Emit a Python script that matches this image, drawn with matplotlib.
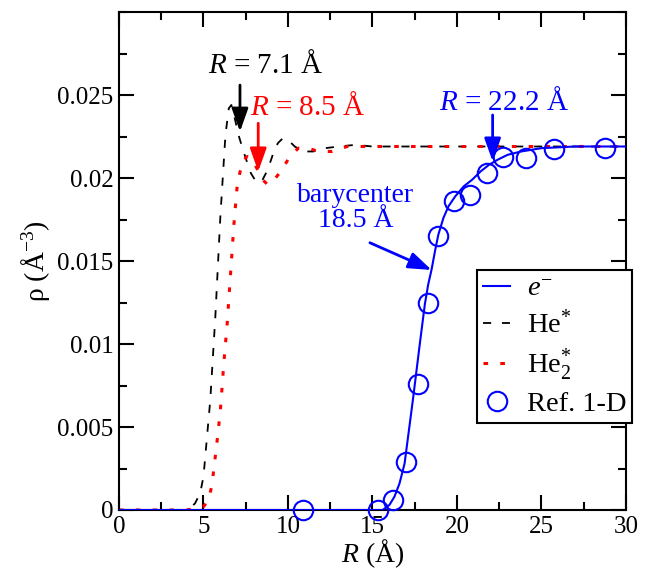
import numpy as np
import matplotlib
matplotlib.use("Agg")
import matplotlib.pyplot as plt
from matplotlib.ticker import MultipleLocator

plt.rcParams['font.family'] = ['Liberation Serif', 'DejaVu Serif']
plt.rcParams['mathtext.fontset'] = 'custom'
plt.rcParams['mathtext.rm'] = 'Liberation Serif'
plt.rcParams['mathtext.it'] = 'Liberation Serif:italic'

# e- density (blue solid)
x_e = [0, 15.6, 16.0, 16.3, 16.6, 16.9, 17.4, 17.8, 18.1, 18.3, 18.5, 18.7, 18.9,
       19.2, 19.5, 19.9, 20.4, 20.9, 21.4, 21.9, 22.4, 23.0, 23.8, 25.0, 27.0, 30.0]
y_e = [0, 0, 0.0003, 0.0008, 0.0016, 0.0028, 0.0067, 0.0100, 0.0124, 0.0136, 0.0145,
       0.0156, 0.0166, 0.0176, 0.0183, 0.0189, 0.0195, 0.0199, 0.0204, 0.0208, 0.0211,
       0.0214, 0.0216, 0.0218, 0.0219, 0.0219]

# He* (black dashed)
x_he = [0, 3.8, 4.2, 4.5, 4.8, 5.0, 5.4, 5.7, 6.0, 6.3, 6.5, 6.65, 6.85, 7.1, 7.4,
        7.8, 8.1, 8.3, 8.5, 8.8, 9.1, 9.4, 9.7, 10.0, 10.4, 10.9, 11.5, 12.2, 13.0,
        14.0, 15.0, 17.0, 20.0, 25.0, 30.0]
y_he = [0, 0, 0.0001, 0.0004, 0.0010, 0.0020, 0.0066, 0.0116, 0.0177, 0.0226, 0.0242,
        0.0244, 0.0236, 0.0225, 0.0215, 0.0203, 0.0198, 0.0197, 0.0199, 0.0205, 0.0214,
        0.0221, 0.0224, 0.0223, 0.0219, 0.0216, 0.0216, 0.0218, 0.0219, 0.0220, 0.0219,
        0.0219, 0.0219, 0.0219, 0.0219]

# He2* (red dotted)
x_he2 = [0, 4.0, 4.6, 5.0, 5.3, 5.5, 5.8, 6.0, 6.2, 6.4, 6.6, 6.8, 7.0, 7.3, 7.6, 7.9,
         8.2, 8.5, 8.8, 9.1, 9.5, 10.0, 10.6, 11.2, 11.8, 12.6, 13.5, 15.0, 20.0, 25.0, 30.0]
y_he2 = [0, 0, 0.0001, 0.0002, 0.0006, 0.0015, 0.0041, 0.0060, 0.0088, 0.0112, 0.0142,
         0.0172, 0.0196, 0.0210, 0.0213, 0.0211, 0.0205, 0.0199, 0.0196, 0.0198, 0.0203,
         0.0211, 0.0218, 0.0218, 0.0216, 0.0216, 0.0219, 0.0219, 0.0219, 0.0219, 0.0219]

# Ref. 1-D (open circles)
x_ref = [10.9, 15.3, 16.2, 17.0, 17.7, 18.3, 18.9, 19.8, 20.8, 21.75, 22.7, 24.1, 25.75, 28.75]
y_ref = [0, 0, 0.0006, 0.0029, 0.0076, 0.01245, 0.0165, 0.0186, 0.0190, 0.0203,
         0.02125, 0.0212, 0.02175, 0.0218]

yticks = [0, 0.005, 0.01, 0.015, 0.02, 0.025]
ytick_labels = ['0', '0.005', '0.01', '0.015', '0.02', '0.025']
xticks = [0, 5, 10, 15, 20, 25, 30]

fig = plt.figure(figsize=(6.48, 5.74), dpi=100)
ax = fig.add_axes([0.1836, 0.1115, 0.7824, 0.8675])

ax.plot(x_e, y_e, color='blue', lw=1.5, label=r'$e^{-}$', zorder=3)
ax.plot(x_he, y_he, color='black', lw=1.3, ls=(0, (4.5, 6)), label=r'He$^{*}$')
ax.plot(x_he2, y_he2, color='red', lw=2.2, ls=(0, (1.5, 4)), label=r'He$_{2}^{*}$')
ax.plot(x_ref, y_ref, 'o', mfc='none', mec='blue', mew=1.5, ms=14, label='Ref. 1-D',
        clip_on=False, zorder=4)

ax.set_xlim(0, 30)
ax.set_ylim(0, 0.03)
ax.set_xticks(xticks)
ax.set_yticks(yticks)
ax.set_yticklabels(ytick_labels)
ax.xaxis.set_minor_locator(MultipleLocator(2.5))
ax.yaxis.set_minor_locator(MultipleLocator(0.0025))
ax.tick_params(which='both', direction='in', top=True, right=True, width=1.5)
ax.tick_params(which='major', length=11, labelsize=18, pad=4)
ax.tick_params(which='minor', length=6)
for s in ax.spines.values():
    s.set_linewidth(1.5)

ax.set_xlabel(r'$R$ (Å)', fontsize=20, labelpad=0)
ax.set_ylabel(r'ρ (Å$^{-3}$)', fontsize=20, labelpad=4)

# arrows and labels
arr = dict(arrowstyle='-|>,head_length=0.7,head_width=0.25', lw=2, mutation_scale=20,
           shrinkA=0, shrinkB=0)
ax.annotate('', xy=(7.16, 0.0228), xytext=(7.16, 0.0256), arrowprops=dict(arr, color='black'))
ax.text(8.7, 0.0268, r'$R$ = 7.1 Å', fontsize=21, color='black', ha='center', va='center')

ax.annotate('', xy=(8.24, 0.0204), xytext=(8.24, 0.0233), arrowprops=dict(arr, color='red'))
ax.text(11.18, 0.0243, r'$R$ = 8.5 Å', fontsize=21, color='red', ha='center', va='center')

ax.annotate('', xy=(22.11, 0.0210), xytext=(22.11, 0.0238), arrowprops=dict(arr, color='blue'))
ax.text(22.78, 0.02458, r'$R$ = 22.2 Å', fontsize=21, color='blue', ha='center', va='center')

ax.annotate('', xy=(18.5, 0.01446), xytext=(14.85, 0.0161), arrowprops=dict(arr, color='blue'))
ax.text(14.0, 0.0182, 'barycenter\n18.5 Å', fontsize=20, color='blue', ha='center',
        va='center', linespacing=1.0)

leg = ax.legend(loc='lower right', bbox_to_anchor=(0.976, 0.263),
                bbox_transform=fig.transFigure, borderaxespad=0, fontsize=20.5,
                fancybox=False, framealpha=1, edgecolor='black', handlelength=0.95,
                labelspacing=0.3, borderpad=0.2, handletextpad=0.6)
leg.get_frame().set_linewidth(1.5)

fig.savefig('out.png', dpi=100)
